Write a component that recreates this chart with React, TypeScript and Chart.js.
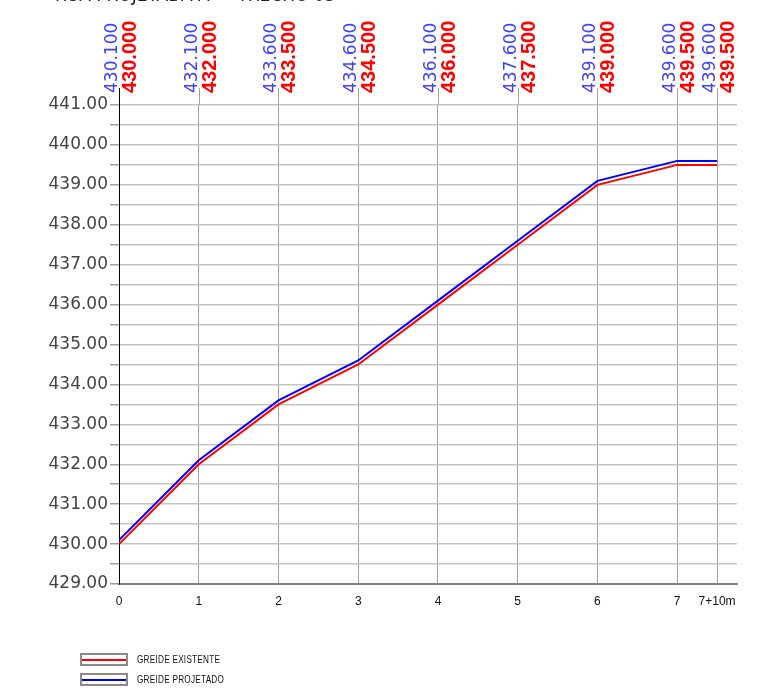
import React, { useEffect, useRef } from "react";
import { Chart, registerables } from "chart.js";

Chart.register(...registerables);

const titleText = "RUA PROJETADA A  -  TRECHO 03";
const stations = [0, 1, 2, 3, 4, 5, 6, 7, 7.5];
const stationLabels = ["0", "1", "2", "3", "4", "5", "6", "7", "7+10m"];
const greideExistente = [430.0, 432.0, 433.5, 434.5, 436.0, 437.5, 439.0, 439.5, 439.5];
const greideProjetado = [430.1, 432.1, 433.6, 434.6, 436.1, 437.6, 439.1, 439.6, 439.6];
const existenteLabels = ["430.000", "432.000", "433.500", "434.500", "436.000", "437.500", "439.000", "439.500", "439.500"];
const projetadoLabels = ["430.100", "432.100", "433.600", "434.600", "436.100", "437.600", "439.100", "439.600", "439.600"];
const legendNames = ["GREIDE EXISTENTE", "GREIDE PROJETADO"];
const RED = "#ff0000";
const BLUE = "#0000ff";
const LABEL_BLUE = "#4040ff";
const LABEL_FONT = '"DejaVu Sans"';

const topPlugin = {
  id: "topLabels",
  afterDraw(chart: any) {
    const ctx = chart.ctx;
    const xs = chart.scales.x;
    const area = chart.chartArea;
    const topY = 88;
    ctx.save();
    // vertical line extensions
    ctx.strokeStyle = "#a0a0a0";
    ctx.lineWidth = 1;
    stations.forEach((s) => {
      const px = Math.round(xs.getPixelForValue(s)) + 0.5;
      if (s === 0) return;
      ctx.beginPath();
      ctx.moveTo(px, topY);
      ctx.lineTo(px, area.top);
      ctx.stroke();
    });
    ctx.strokeStyle = "#000";
    ctx.beginPath();
    const ax = Math.round(area.left) + 0.5;
    ctx.moveTo(ax, topY);
    ctx.lineTo(ax, area.top);
    ctx.stroke();
    // labels
    stations.forEach((s, i) => {
      const px = xs.getPixelForValue(s);
      ctx.save();
      ctx.translate(px - 2, 93);
      ctx.rotate(-Math.PI / 2);
      ctx.fillStyle = LABEL_BLUE;
      ctx.font = "17px " + LABEL_FONT;
      ctx.textAlign = "left";
      ctx.textBaseline = "alphabetic";
      ctx.fillText(projetadoLabels[i], 0, 0);
      ctx.restore();
      ctx.save();
      ctx.translate(px + 17, 93);
      ctx.rotate(-Math.PI / 2);
      ctx.fillStyle = RED;
      ctx.font = 'bold 20px "Liberation Sans"';
      ctx.textAlign = "left";
      ctx.textBaseline = "alphabetic";
      ctx.fillText(existenteLabels[i], 0, 0);
      ctx.restore();
    });
    // title (cut off at top)
    ctx.fillStyle = "#222";
    ctx.font = "17px " + LABEL_FONT;
    ctx.textAlign = "left";
    ctx.textBaseline = "alphabetic";
    ctx.fillText(titleText, 55, 1);
    ctx.restore();
  },
};

function ChartCanvas() {
  const ref = useRef<HTMLCanvasElement | null>(null);
  useEffect(() => {
    if (!ref.current) return;
    const chart = new Chart(ref.current, {
      type: "line",
      data: {
        datasets: [
          {
            label: legendNames[0],
            data: stations.map((s, i) => ({ x: s, y: greideExistente[i] })),
            borderColor: RED,
            borderWidth: 2,
            pointRadius: 0,
            tension: 0,
          },
          {
            label: legendNames[1],
            data: stations.map((s, i) => ({ x: s, y: greideProjetado[i] })),
            borderColor: BLUE,
            borderWidth: 2,
            pointRadius: 0,
            tension: 0,
          },
        ],
      },
      options: {
        animation: false,
        responsive: false,
        devicePixelRatio: 1,
        layout: { padding: { top: 105, right: 26, left: 0, bottom: 0 } },
        plugins: { legend: { display: false }, tooltip: { enabled: false }, title: { display: false } },
        scales: {
          x: {
            type: "linear",
            min: 0,
            max: 7.75,
            afterBuildTicks: (scale: any) => {
              scale.ticks = stations.map((v) => ({ value: v }));
            },
            afterFit: (scale: any) => {
              scale.height = 116;
            },
            ticks: {
              autoSkip: false,
              maxRotation: 0,
              padding: 10,
              color: "#111",
              font: { family: '"Liberation Sans Narrow", "Liberation Sans"', size: 12 },
              callback: (_v: any, idx: number) => stationLabels[idx],
            },
            grid: { color: "#a0a0a0", lineWidth: 1, drawTicks: false },
            border: { color: "#808080", width: 2 },
          },
          y: {
            type: "linear",
            min: 429,
            max: 441,
            afterFit: (scale: any) => {
              scale.width = 119;
            },
            ticks: {
              stepSize: 0.5,
              autoSkip: false,
              padding: 2,
              color: "#444",
              font: { family: LABEL_FONT, size: 17 },
              callback: (v: any) => (Number.isInteger(v) ? Number(v).toFixed(2) : ""),
            },
            grid: { color: "#c4c4c4", lineWidth: 1.5, tickLength: 9, tickColor: "#a0a0a0" },
            border: { color: "#000", width: 1 },
          },
        },
      },
      plugins: [topPlugin],
    } as any);
    return () => chart.destroy();
  }, []);
  return <canvas ref={ref} width={763} height={700} style={{ position: "absolute", left: 0, top: 0 }} />;
}

function LegendItem({ color, label, top }: { color: string; label: string; top: number }) {
  return (
    <div style={{ position: "absolute", left: 80, top, height: 13, display: "flex", alignItems: "center" }}>
      <div
        style={{
          width: 44,
          height: 9,
          border: "2px solid #8a8a8a",
          position: "relative",
          background: "#fff",
        }}
      >
        <div style={{ position: "absolute", left: 0, right: 0, top: 3.5, height: 2, background: color }} />
      </div>
      <span
        style={{
          marginLeft: 9,
          fontFamily: '"Liberation Sans Narrow", "Liberation Sans", sans-serif',
          fontSize: 10,
          color: "#111",
          letterSpacing: 0.3,
          whiteSpace: "pre",
          display: "inline-block",
          transform: "scaleX(0.82)",
          transformOrigin: "left center",
        }}
      >
        {label}
      </span>
    </div>
  );
}

export default function App() {
  return (
    <div style={{ position: "absolute", left: 0, top: 0, width: 763, height: 700, background: "#fff", overflow: "hidden" }}>
      <ChartCanvas />
      <LegendItem color={RED} label={legendNames[0]} top={653} />
      <LegendItem color={BLUE} label={legendNames[1]} top={673} />
    </div>
  );
}
